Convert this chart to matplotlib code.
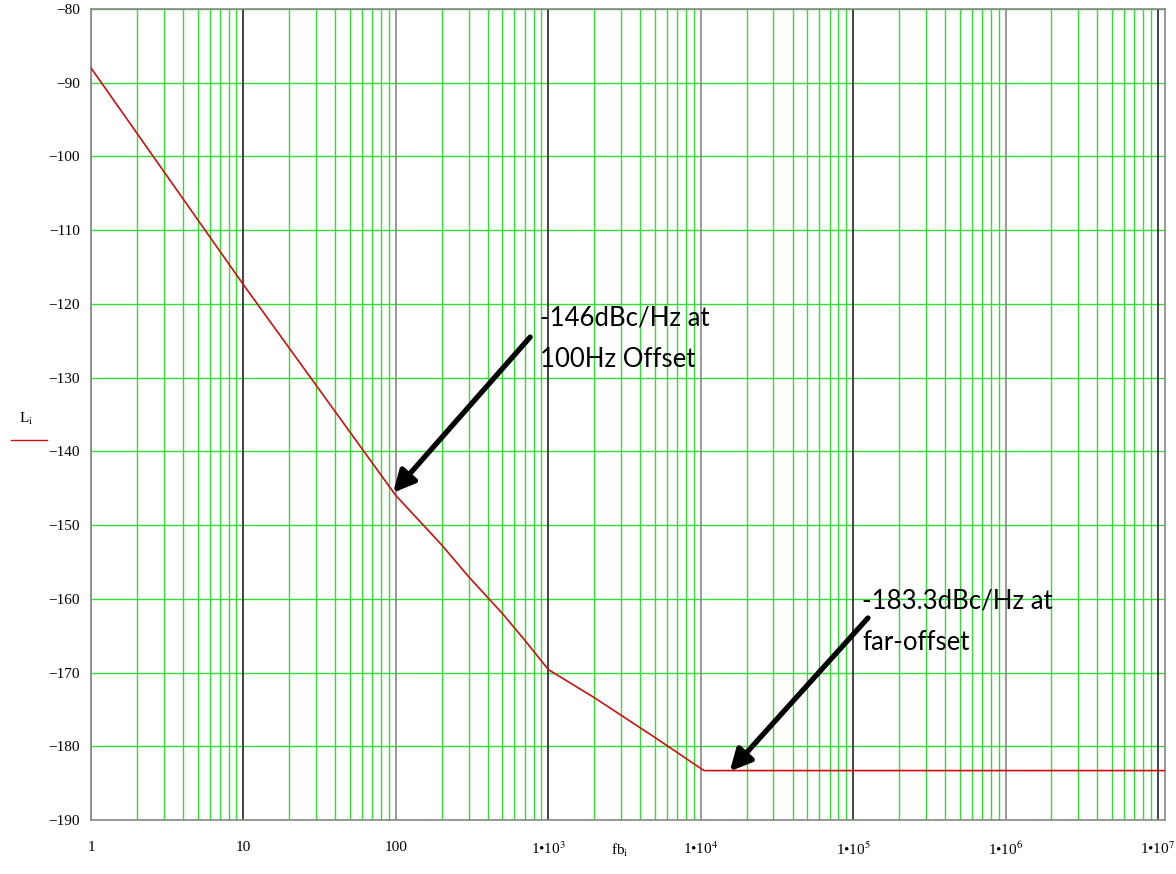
import numpy as np
import matplotlib.pyplot as plt
from matplotlib.lines import Line2D

# phase noise profile L(f) read at a set of offset frequencies
offset_hz = [1, 10, 100, 200, 300, 500, 700, 1000, 2000, 5000, 10500, 1.1e7]
noise_dbc = [-88.0, -117.4, -146.0, -152.7, -157.0, -162.0, -165.6, -169.6,
             -173.4, -178.8, -183.3, -183.3]

y_ticks = list(range(-190, -79, 10))
decades = [1, 10, 100, 1e3, 1e4, 1e5, 1e6, 1e7]
x_labels = ['1', '10', '100', r'1•10$^{3}$', r'1•10$^{4}$', r'1•10$^{5}$',
            r'1•10$^{6}$', r'1•10$^{7}$']

plt.rcParams['font.family'] = ['Liberation Serif', 'DejaVu Serif']
plt.rcParams['mathtext.fontset'] = 'stix'

fig = plt.figure(figsize=(11.76, 8.74), dpi=100)
ax = fig.add_axes([0.0774, 0.0618, 0.9132, 0.9279])

ax.set_xscale('log')
ax.set_xlim(1, 1.11e7)
ax.set_ylim(-190, -80)

# green grid: every 10 dB and the 2..9 lines inside each decade
green = '#35dc35'
for y in y_ticks:
    ax.axhline(y, color=green, lw=1.0, zorder=1)
for d in decades[:-1]:
    for k in range(2, 10):
        ax.axvline(d * k, color=green, lw=1.0, zorder=1)
for i, d in enumerate(decades):
    ax.axvline(d, color='#222222' if i % 2 else '#888888', lw=1.2, zorder=2)

ax.plot(offset_hz, noise_dbc, color='#cc1010', lw=1.2, zorder=3)

ax.set_yticks(y_ticks)
ax.set_yticklabels([f'\u2212{abs(v)}' for v in y_ticks])
ax.set_xticks(decades)
ax.set_xticklabels(x_labels)
ax.minorticks_off()
ax.tick_params(length=0, labelsize=11, colors='black')
ax.tick_params(axis='x', pad=15)
ax.tick_params(axis='y', pad=8)
for s in ax.spines.values():
    s.set_color('#888888')
    s.set_linewidth(1.2)

# axis names in Mathcad style
fig.text(0.527, 0.022, r'fb$_{\mathrm{i}}$', fontsize=11, ha='center')
fig.text(0.022, 0.516, r'L$_{\mathrm{i}}$', fontsize=11, ha='center')
fig.add_artist(Line2D([0.009, 0.040], [0.497, 0.497], color='#cc1010', lw=1.0))

# callouts
note_font = dict(family=['Lato', 'DejaVu Sans'], fontsize=18.5, linespacing=1.85)
ax.text(880, -120.2, '-146dBc/Hz at\n100Hz Offset', va='top', **note_font)
ax.annotate('', xy=(96, -145.6), xytext=(760, -124.5),
            arrowprops=dict(arrowstyle='-|>', lw=3.8, color='black',
                            mutation_scale=32, shrinkA=0, shrinkB=0))
ax.text(1.15e5, -158.6, '-183.3dBc/Hz at\nfar-offset', va='top', **note_font)
ax.annotate('', xy=(1.55e4, -183.4), xytext=(1.25e5, -162.6),
            arrowprops=dict(arrowstyle='-|>', lw=3.8, color='black',
                            mutation_scale=32, shrinkA=0, shrinkB=0))

fig.savefig('out.png', dpi=100, facecolor='white')
